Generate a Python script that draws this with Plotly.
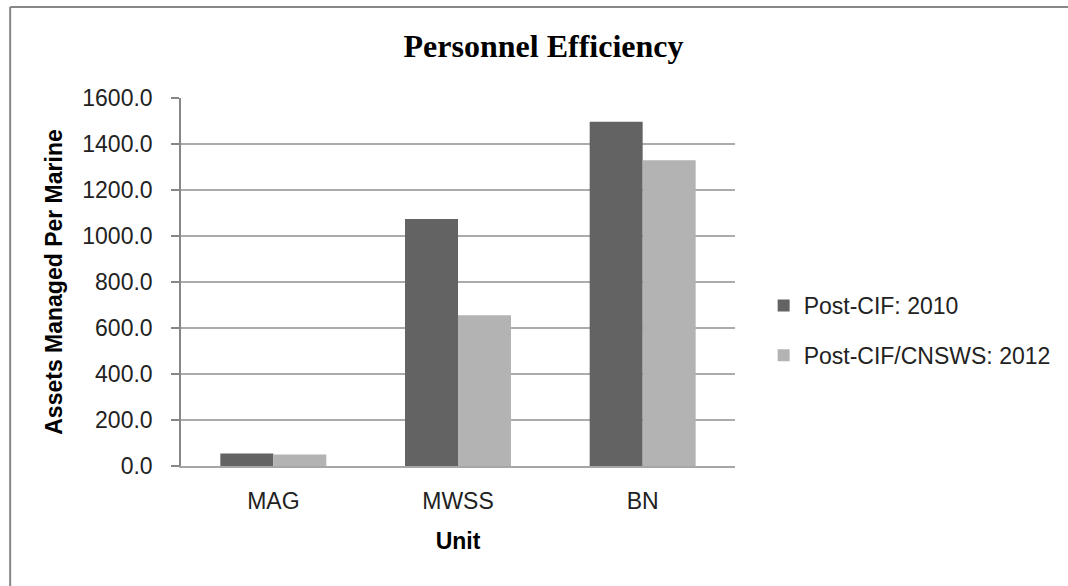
import plotly.graph_objects as go

units = ["MAG", "MWSS", "BN"]
series_names = ["Post-CIF: 2010", "Post-CIF/CNSWS: 2012"]
values_2010 = [54, 1074, 1497]
values_2012 = [50, 655, 1329]
y_ticks = [0, 200, 400, 600, 800, 1000, 1200, 1400, 1600]

colors = ["#636363", "#b3b3b3"]
font_sans = "Liberation Sans"

fig = go.Figure()
for i, (name, vals) in enumerate(zip(series_names, [values_2010, values_2012])):
    fig.add_trace(go.Bar(
        x=units, y=vals, name=name,
        marker=dict(color=colors[i], line=dict(width=0)),
        legendgroup=f"g{i}",
    ))

W, H = 1068, 586
L, R, T, B = 181, 326, 98, 120
pw = W - L - R
ph = H - T - B

fig.update_layout(
    width=W, height=H,
    margin=dict(l=L, r=R, t=T, b=B),
    paper_bgcolor="white", plot_bgcolor="white",
    barmode="group", bargap=0.426, bargroupgap=0,
    font=dict(family=font_sans, size=23, color="#222222"),
    title=dict(text="<b>Personnel Efficiency</b>", x=543.5 / W, xanchor="center",
               xref="container",
               y=1 - 46 / H, yanchor="middle",
               font=dict(family="Liberation Serif", size=32, color="#000000")),
    legend=dict(x=(771 - L) / pw, xanchor="left", y=1 - (330.5 - T) / ph, yanchor="middle",
                traceorder="grouped", tracegroupgap=17,
                font=dict(family=font_sans, size=23, color="#222222"),
                bgcolor="rgba(0,0,0,0)"),
    xaxis=dict(
        title=dict(text="<b>Unit</b>", standoff=20, font=dict(size=23, color="#000000")),
        showline=True, linecolor="#a6a6a6", linewidth=1.5,
        ticks="", ticklabelstandoff=14,
        showgrid=False, zeroline=False,
        tickfont=dict(size=23, color="#222222"),
    ),
    yaxis=dict(
        title=dict(text="<b>Assets Managed Per Marine</b>", standoff=13,
                   font=dict(size=23, color="#000000")),
        range=[0, 1600], tickvals=y_ticks, tickformat=".1f",
        showgrid=True, gridcolor="#ababab", gridwidth=1.5,
        showline=True, linecolor="#878787", linewidth=1.5,
        ticks="outside", ticklen=8, tickcolor="#878787", tickwidth=1.5,
        ticklabelstandoff=14,
        zeroline=False,
        tickfont=dict(size=23, color="#222222"),
    ),
    showlegend=True,
)

# outer chart frame (left and top edges visible)
x_left = (8 - L) / pw
y_top = 1 + (T - 7) / ph
fig.add_shape(type="line", xref="paper", yref="paper",
              x0=x_left, x1=x_left, y0=y_top, y1=-0.5,
              line=dict(color="#878787", width=2))
fig.add_shape(type="line", xref="paper", yref="paper",
              x0=x_left, x1=2.0, y0=y_top, y1=y_top,
              line=dict(color="#878787", width=2))

fig.write_html("out.html", config={"displayModeBar": False},
               post_script="document.body.style.margin='0';document.body.style.overflow='hidden';")
